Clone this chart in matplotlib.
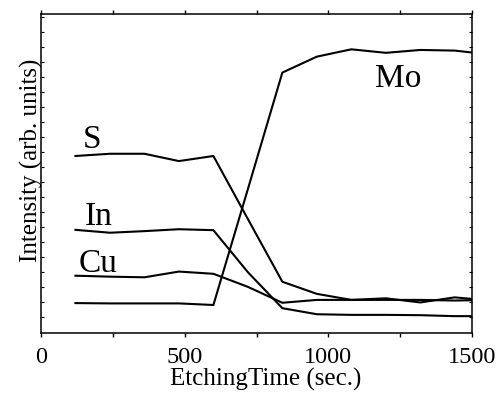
import matplotlib
matplotlib.use("Agg")
import matplotlib.pyplot as plt
import numpy as np

time_s = [120, 240, 360, 480, 600, 720, 840, 960, 1080, 1200, 1320, 1440, 1560]
mo = [9.3, 9.2, 9.2, 9.2, 8.7, 45.1, 81.7, 86.7, 89.0, 87.9, 88.8, 88.6, 87.4]
s = [55.5, 56.2, 56.2, 53.9, 55.5, 35.7, 16.0, 12.2, 10.3, 10.8, 9.5, 11.1, 10.1]
ind = [32.3, 31.4, 31.9, 32.5, 32.2, 19.0, 7.7, 5.8, 5.6, 5.6, 5.5, 5.2, 5.2]
cu = [17.9, 17.6, 17.4, 19.2, 18.5, 14.4, 9.4, 10.3, 10.3, 10.3, 10.3, 10.1, 10.3]

labels = ["S", "In", "Cu", "Mo"]
label_x = [146, 153, 132, 1162]
label_y = [58.0, 33.8, 19.1, 77.2]

xticks = [0, 500, 1000, 1500]

plt.rcParams['font.family'] = ['Liberation Serif', 'DejaVu Serif']

fig = plt.figure(figsize=(4.99, 3.94), dpi=100)
ax = fig.add_axes([41/499, 1-332.7/394, 431/499, 318.4/394])

for series in (mo, s, ind, cu):
    ax.plot(time_s, series, color='black', lw=1.5, solid_joinstyle='miter')

for lab, lx, ly in zip(labels, label_x, label_y):
    ax.text(lx, ly, lab, fontsize=24, ha='left', va='baseline')

ax.set_xlim(0, 1500)
ax.set_ylim(0, 100)
ax.set_xticks(xticks)
ax.set_xticklabels([str(t) for t in xticks], fontsize=17.5)
ax.set_xticks(np.arange(250, 1500, 500), minor=True)
ax.set_yticks(np.arange(5.0, 100, 4.71))
ax.set_yticklabels([])
ax.tick_params(axis='x', which='both', direction='out', length=3, width=1, top=True, pad=7)
ax.tick_params(axis='y', which='both', direction='in', length=2, width=0.8, right=True)
for sp in ax.spines.values():
    sp.set_linewidth(1.1)

ax.set_xlabel("EtchingTime (sec.)", fontsize=18, labelpad=0)
ax.xaxis.label.set_x((266-41)/431)
ax.set_ylabel("Intensity (arb. units)", fontsize=18, labelpad=-5)
ax.yaxis.label.set_y(0.542)

fig.savefig("out.png", dpi=100)
